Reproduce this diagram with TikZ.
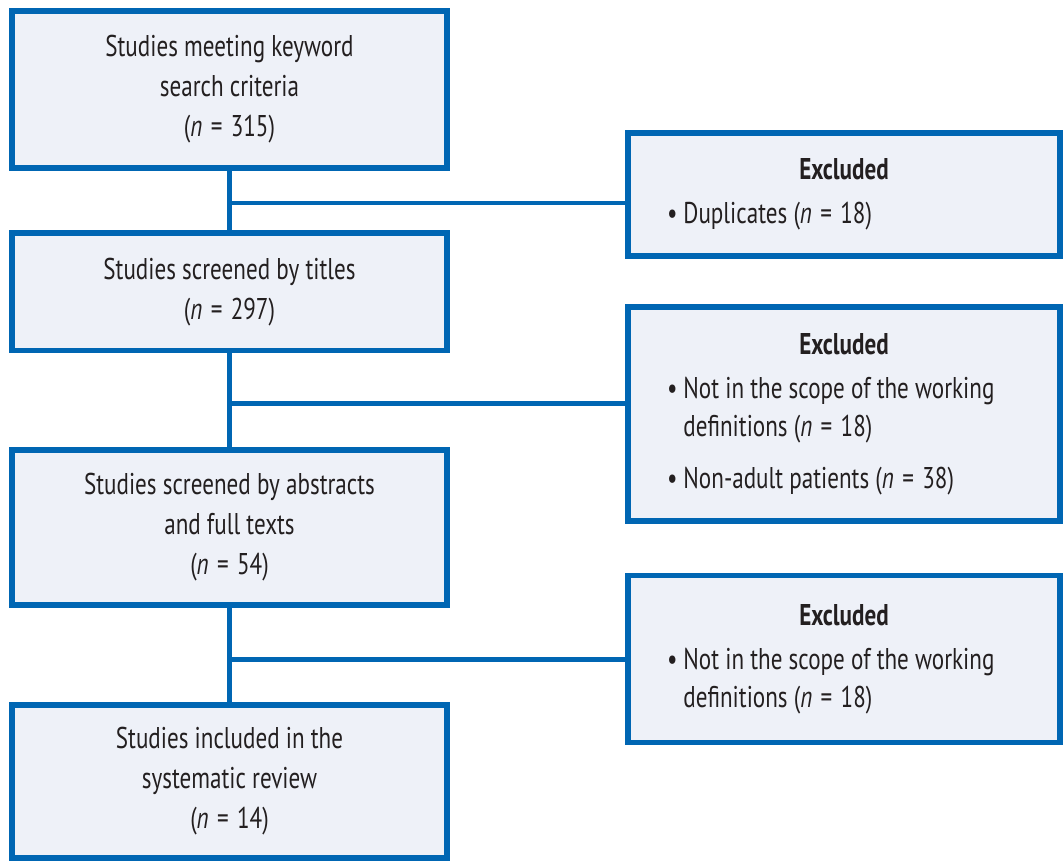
\documentclass[tikz,border=0pt]{standalone}
\usepackage{fontspec}
\setmainfont{PT Sans}[FakeStretch=0.77]
\usetikzlibrary{positioning}
\definecolor{flowblue}{RGB}{0,102,179}
\definecolor{flowfill}{RGB}{238,241,248}
\definecolor{flowtext}{RGB}{35,31,32}
\newcommand{\ncount}[1]{(\textit{n}\;=\;#1)}
\newcommand{\xhead}{\makebox[\linewidth]{\bfseries Excluded}}
\newcommand{\xbul}{\textbullet\kern3pt}
\newcommand{\xpad}{\phantom{\xbul}}
\tikzset{
  stage/.style = {draw=flowblue, fill=flowfill, line width=2.75pt,
                  minimum width=217.5pt, align=center, text=flowtext,
                  font=\fontsize{15}{20}\selectfont},
  excl/.style  = {draw=flowblue, fill=flowfill, line width=2.75pt,
                  minimum width=216pt, text width=177pt, align=flush left,
                  text=flowtext, font=\fontsize{15}{19}\selectfont},
  link/.style  = {draw=flowblue, line width=2.25pt}
}

\begin{document}
\begin{tikzpicture}[x=0.5pt, y=-0.5pt]
  \useasboundingbox (0,0) rectangle (1063,861);
  % main stages
  \node[stage, minimum height=78.5pt]  (s1) at (229.5,89.5)
    {Studies meeting keyword\\search criteria\\\ncount{315}};
  \node[stage, minimum height=58.75pt] (s2) at (229.5,291.75)
    {Studies screened by titles\\\ncount{297}};
  \node[stage, minimum height=77.5pt]  (s3) at (229.5,527.5)
    {Studies screened by abstracts\\and full texts\\\ncount{54}};
  \node[stage, minimum height=76.5pt]  (s4) at (229.5,781.5)
    {Studies included in the\\systematic review\\\ncount{14}};
  % exclusions
  \node[excl, minimum height=61.5pt] (e1) at (844,194.5)
    {\xhead\\[3pt]\xbul Duplicates \ncount{18}};
  \node[excl, minimum height=107pt]  (e2) at (844,414)
    {\xhead\\[3pt]\xbul Not in the scope of the working\\
     \xpad definitions \ncount{18}\\[7pt]
     \xbul Non-adult patients \ncount{38}};
  \node[excl, minimum height=83.5pt] (e3) at (844,659)
    {\xhead\\[3pt]\xbul Not in the scope of the working\\
     \xpad definitions \ncount{18}};
  % connectors
  \coordinate (j1) at (229.5,203);
  \coordinate (j2) at (229.5,403.5);
  \coordinate (j3) at (229.5,659.5);
  \draw[link] (s1) -- (s2);
  \draw[link] (s2) -- (s3);
  \draw[link] (s3) -- (s4);
  \draw[link] (j1) -- (e1.west |- j1);
  \draw[link] (j2) -- (e2.west |- j2);
  \draw[link] (j3) -- (e3.west |- j3);
\end{tikzpicture}
\end{document}
